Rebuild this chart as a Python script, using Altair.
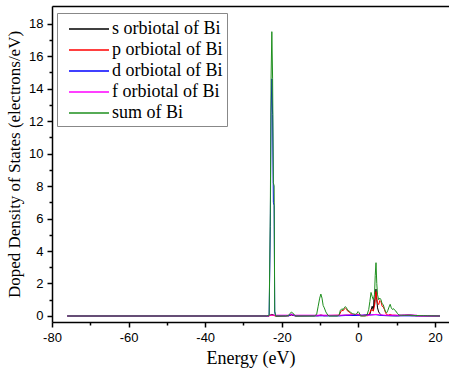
import altair as alt
import pandas as pd

# ---- data ----
sum_E = [-76, -24, -23.3, -23.0, -22.8, -22.6, -22.4, -22.2, -22.0, -21.85, -21.6,
         -19, -18.2, -17.9, -17.5, -17.1, -16.7, -16.3,
         -11.5, -10.9, -10.5, -10.1, -9.8, -9.5, -9.2, -8.9, -8.5, -8.0, -7.6,
         -5.4, -5.0, -4.7, -4.3, -4.0, -3.7, -3.4, -3.1, -2.8, -2.4, -2.0, -1.6, -1.2, -0.8, -0.4, -0.1, 0.2, 0.5, 0.9,
         1.8, 2.3, 2.7, 3.0, 3.3, 3.6, 3.9, 4.2, 4.4, 4.6, 4.8, 5.0, 5.3, 5.6, 5.9, 6.2, 6.5, 6.8, 7.1, 7.4, 7.7,
         8.0, 8.3, 8.6, 8.9, 9.2, 9.5, 9.8, 10.2, 10.6, 11.2, 12, 13, 14, 15, 16, 17, 18, 19, 21.3]
sum_V = [0, 0, 0.05, 6.3, 14.6, 17.5, 14.6, 8.2, 8.0, 0.3, 0.0,
         0.0, 0.04, 0.15, 0.23, 0.18, 0.06, 0.0,
         0.0, 0.1, 0.6, 1.1, 1.35, 1.1, 0.65, 0.5, 0.25, 0.06, 0.0,
         0.0, 0.1, 0.35, 0.45, 0.38, 0.5, 0.58, 0.5, 0.35, 0.3, 0.22, 0.15, 0.12, 0.1, 0.15, 0.27, 0.2, 0.05, 0.0,
         0.0, 0.1, 0.4, 0.9, 1.45, 1.2, 1.0, 1.3, 2.5, 3.28, 2.0, 1.3, 1.0, 1.1, 1.0, 0.75, 0.7, 0.45, 0.25, 0.2, 0.35,
         0.55, 0.72, 0.5, 0.4, 0.45, 0.35, 0.3, 0.15, 0.06, 0.05, 0.04, 0.05, 0.04, 0.03, 0.02, 0.02, 0.01, 0.01, 0.0]

s_E = [-76, -23.5, -22.6, -21.5, -18.2, -17.5, -16.5, -10.5, -9.8, -9.0, -5.0, -3.4, -1.2, -0.1, 0.5,
       3.0, 3.6, 3.9, 4.1, 4.2, 4.4, 4.6, 4.8, 5.0, 5.3, 5.6, 6.0, 6.5, 8, 10, 12, 13.5, 15, 21.3]
s_V = [0, 0, 0.1, 0, 0.02, 0.1, 0.01, 0.02, 0.05, 0.02, 0.02, 0.05, 0.05, 0.08, 0.01,
       0.1, 0.6, 0.35, 1.0, 0.6, 1.3, 1.66, 1.0, 0.5, 0.25, 0.15, 0.05, 0.03, 0.02, 0.01, 0.05, 0.06, 0.02, 0]

p_E = [-76, -23.5, -22.6, -21.5, -18.2, -17.5, -16.5, -10.5, -9.8, -9.0,
       -5.0, -4.6, -4.3, -4.0, -3.7, -3.4, -3.1, -2.8, -2.4, -2.0, -1.6, -1.2, -0.8, -0.4, -0.1, 0.3, 0.8,
       2.5, 3.0, 3.3, 3.6, 3.9, 4.2, 4.4, 4.6, 4.8, 5.0, 5.3, 5.6, 5.9, 6.2, 6.5, 6.8, 7.1, 7.4, 7.8,
       8.3, 8.8, 9.5, 10.5, 12, 13, 14, 16, 21.3]
p_V = [0, 0, 0.05, 0, 0.01, 0.05, 0.01, 0.02, 0.05, 0.02,
       0.05, 0.25, 0.35, 0.32, 0.42, 0.48, 0.42, 0.3, 0.25, 0.15, 0.1, 0.1, 0.08, 0.08, 0.12, 0.05, 0.01,
       0.02, 0.2, 0.4, 0.35, 0.3, 0.6, 1.1, 1.5, 1.1, 0.8, 0.7, 0.95, 0.88, 0.6, 0.55, 0.4, 0.2, 0.08, 0.05,
       0.1, 0.05, 0.05, 0.02, 0.03, 0.04, 0.02, 0.01, 0]

d_E = [-76, -23.5, -23.3, -23.0, -22.8, -22.6, -22.4, -22.2, -22.0, -21.85, -21.6,
       -18.2, -17.5, -16.5, -5.0, -3.4, -0.1, 4.6, 6.0, 10, 21.3]
d_V = [0, 0, 0.04, 5.5, 12.5, 14.6, 12.4, 7.0, 6.8, 0.25, 0.01,
       0.01, 0.08, 0.01, 0.01, 0.03, 0.04, 0.08, 0.03, 0.01, 0]

f_E = [-76, -23.6, -23.3, -18.3, -17.5, -16.7, -10.5, -9.8, -9.0, -4.5, -2.0, -1.0, -0.2,
       1.0, 3.0, 4.6, 5.5, 7.0, 10.0, 12.0, 13.5, 15.2, 15.5, 21.3]
f_V = [0, 0, 0.05, 0.05, 0.12, 0.05, 0.05, 0.06, 0.05, 0.05, 0.07, 0.1, 0.08,
       0.05, 0.05, 0.1, 0.08, 0.05, 0.05, 0.07, 0.07, 0.05, 0, 0]

series_names = ["s orbiotal of Bi", "p orbiotal of Bi", "d orbiotal of Bi",
                "f orbiotal of Bi", "sum of Bi"]
series_colors = ["#000000", "#ff0000", "#0000ff", "#ff00ff", "#1e8f1e"]

x_ticks = list(range(-80, 21, 10))
y_ticks = list(range(0, 19, 1))

frames = []
for name, E, V in zip(series_names, [s_E, p_E, d_E, f_E, sum_E], [s_V, p_V, d_V, f_V, sum_V]):
    frames.append(pd.DataFrame({"Energy": E, "DOS": V, "series": name}))
df = pd.concat(frames, ignore_index=True)
df["order"] = df["series"].map({n: i for i, n in enumerate(series_names)})

x_scale = alt.Scale(domain=[-80, 23.66], nice=False, zero=False)
y_scale = alt.Scale(domain=[-0.37, 19.08], nice=False, zero=False)

lines = alt.Chart(df).mark_line(strokeWidth=1, clip=True).encode(
    x=alt.X("Energy:Q", scale=x_scale,
            axis=alt.Axis(title="Energy (eV)", values=x_ticks, orient="bottom",
                          labelExpr="datum.value % 20 === 0 ? '' + datum.value : ''",
                          tickSize={"condition": {"test": "datum.value % 20 === 0", "value": 5}, "value": 3},
                          grid=False, domainColor="black", domainWidth=1.5, tickColor="black",
                          tickWidth=1.5, labelFont="Liberation Sans", labelFontSize=13,
                          labelColor="black", labelPadding=4, labelFlush=False,
                          titleFont="Liberation Serif", titleFontSize=18, titleFontWeight="normal",
                          titleColor="black", titlePadding=5)),
    y=alt.Y("DOS:Q", scale=y_scale,
            axis=alt.Axis(title="Doped Density of States (electrons/eV)", values=y_ticks,
                          orient="left",
                          labelExpr="datum.value % 2 === 0 ? '' + datum.value : ''",
                          tickSize={"condition": {"test": "datum.value % 2 === 0", "value": 5}, "value": 3},
                          grid=False, domainColor="black", domainWidth=1.5, tickColor="black",
                          tickWidth=1.5, labelFont="Liberation Sans", labelFontSize=13,
                          labelColor="black", labelPadding=4, labelOverlap=False, labelFlush=False,
                          titleFont="Liberation Serif", titleFontSize=17, titleFontWeight="normal",
                          titleColor="black", titlePadding=5)),
    color=alt.Color("series:N",
                    scale=alt.Scale(domain=series_names, range=series_colors),
                    legend=alt.Legend(title=None, orient="none", legendX=5, legendY=7,
                                      symbolType="M-1.82,0H1.82", symbolSize=484, symbolStrokeWidth=1.5,
                                      symbolOffset=16,
                                      labelFont="Liberation Serif", labelFontSize=18,
                                      labelColor="black", labelOffset=11, rowPadding=0,
                                      strokeColor="#888888", fillColor="white", padding=4,
                                      labelLimit=300)),
    detail="series:N",
    order="order:Q",
)

# invisible layer that only carries the top frame line (an axis with no ticks or labels)
top_frame = alt.Chart(df).mark_line(opacity=0).encode(
    x=alt.X("Energy:Q", scale=x_scale,
            axis=alt.Axis(orient="top", title=None, labels=False, ticks=False, grid=False,
                          domainColor="black", domainWidth=1.5)),
    y=alt.Y("DOS:Q", scale=y_scale, axis=None),
    detail="series:N",
)

chart = alt.layer(lines, top_frame).resolve_axis(x="independent", y="independent").properties(
    width=397, height=316,
    padding={"left": 52, "top": 6, "right": 0, "bottom": 52},
    autosize=alt.AutoSizeParams(type="none"),
).configure_view(stroke=None).configure(background="white")

chart.save("out.html", embed_options={"renderer": "svg", "actions": False})
